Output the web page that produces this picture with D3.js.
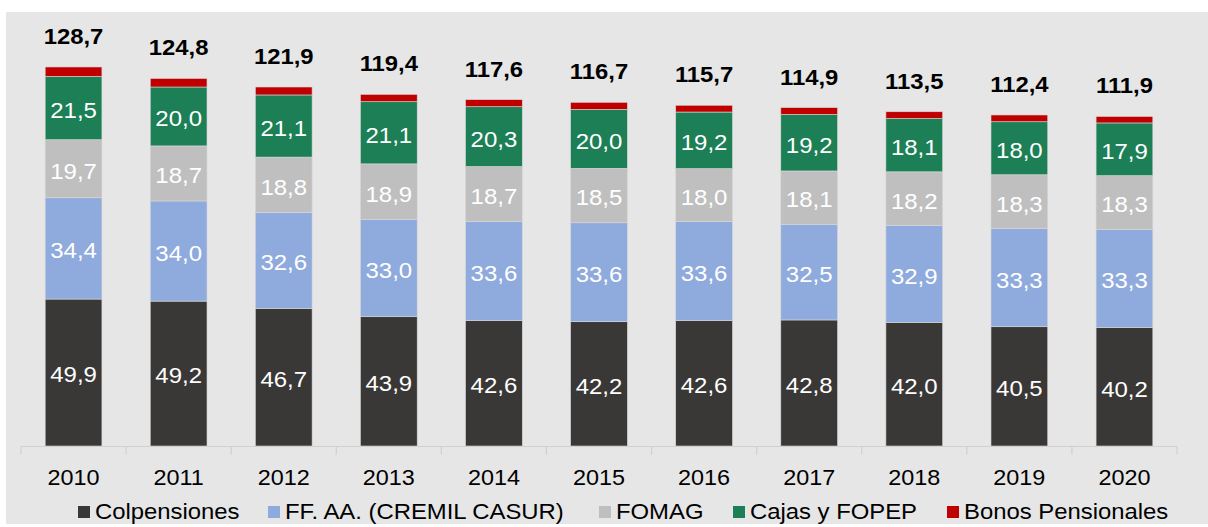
<!DOCTYPE html>
<html>
<head>
<meta charset="utf-8">
<script src="https://cdn.jsdelivr.net/npm/d3@7"></script>
<style>
  html, body { margin: 0; padding: 0; background: #ffffff; }
  svg { display: block; font-family: "Liberation Sans", Arial, sans-serif; }
</style>
</head>
<body>
<svg id="chart" width="1208" height="527"></svg>
<script>
// Pension liabilities by scheme (% of GDP), 2010–2020
const years = ["2010","2011","2012","2013","2014","2015","2016","2017","2018","2019","2020"];
const colpensiones = [49.9, 49.2, 46.7, 43.9, 42.6, 42.2, 42.6, 42.8, 42.0, 40.5, 40.2];
const ffaa         = [34.4, 34.0, 32.6, 33.0, 33.6, 33.6, 33.6, 32.5, 32.9, 33.3, 33.3];
const fomag        = [19.7, 18.7, 18.8, 18.9, 18.7, 18.5, 18.0, 18.1, 18.2, 18.3, 18.3];
const cajas        = [21.5, 20.0, 21.1, 21.1, 20.3, 20.0, 19.2, 19.2, 18.1, 18.0, 17.9];
const bonos        = [3.2, 2.9, 2.7, 2.5, 2.4, 2.4, 2.3, 2.3, 2.3, 2.3, 2.2];

const seriesNames  = ["Colpensiones", "FF. AA. (CREMIL CASUR)", "FOMAG", "Cajas y FOPEP", "Bonos Pensionales"];
const seriesColors = ["#3a3836", "#8faadc", "#bfbfbf", "#1c7f55", "#c00000"];
const seriesValues = [colpensiones, ffaa, fomag, cajas, bonos];
const showSegmentLabel = [true, true, true, true, false];

const fmt = v => v.toFixed(1).replace(".", ",");
// slightly widened lettering
const wide = (px, py, sx) => `translate(${px},${py}) scale(${sx},1)`;

const svg = d3.select("#chart");

// panel background
svg.append("rect")
  .attr("x", 6).attr("y", 12)
  .attr("width", 1202).attr("height", 512)
  .attr("fill", "#e6e6e6");

const x = d3.scaleBand().domain(years).range([21, 1177]).paddingInner(0.46).paddingOuter(0.23);
const y = d3.scaleLinear().domain([0, 140]).range([446, 446 - 140 * 2.945]);

const table = years.map((yr, i) => {
  const row = { year: yr };
  seriesNames.forEach((s, k) => { row[s] = seriesValues[k][i]; });
  return row;
});
const stacked = d3.stack().keys(seriesNames)(table);

// stacked bars
const groups = svg.append("g").selectAll("g")
  .data(stacked).join("g")
  .attr("fill", (d, k) => seriesColors[k]);

groups.selectAll("rect")
  .data(d => d).join("rect")
  .attr("x", d => x(d.data.year))
  .attr("width", x.bandwidth())
  .attr("y", d => y(d[1]))
  .attr("height", d => y(d[0]) - y(d[1]))
  .attr("stroke", "#d8d8d8")
  .attr("stroke-width", 0.6);

// segment value labels
groups.each(function(series, k) {
  if (!showSegmentLabel[k]) return;
  d3.select(this).selectAll("text")
    .data(series).join("text")
    .attr("transform", d => wide(x(d.data.year) + x.bandwidth() / 2, (y(d[0]) + y(d[1])) / 2, 1.09))
    .attr("dy", "0.45em")
    .attr("text-anchor", "middle")
    .attr("fill", "#ffffff")
    .attr("font-size", 22)
    .text(d => fmt(d[1] - d[0]));
});

// totals above bars
const totals = table.map(r => d3.sum(seriesNames, s => r[s]));
svg.append("g").selectAll("text")
  .data(years).join("text")
  .attr("transform", (d, i) => wide(x(d) + x.bandwidth() / 2, y(totals[i]) - 23, 1.06))
  .attr("text-anchor", "middle")
  .attr("font-size", 22.5)
  .attr("font-weight", "bold")
  .attr("fill", "#000000")
  .text((d, i) => fmt(totals[i]));

// category axis
const axis = svg.append("g").attr("transform", "translate(0,446.5)");
axis.append("line")
  .attr("x1", 21).attr("x2", 1177)
  .attr("stroke", "#d0d0d0").attr("stroke-width", 1.2);
const edges = d3.range(years.length + 1).map(i => 21 + i * (1156 / years.length));
axis.selectAll("line.tick")
  .data(edges).join("line")
  .attr("class", "tick")
  .attr("x1", d => d).attr("x2", d => d)
  .attr("y1", 0).attr("y2", 8)
  .attr("stroke", "#d0d0d0").attr("stroke-width", 1.2);
axis.selectAll("text")
  .data(years).join("text")
  .attr("transform", d => wide(x(d) + x.bandwidth() / 2, 38, 1.04))
  .attr("text-anchor", "middle")
  .attr("font-size", 22.5)
  .attr("fill", "#000000")
  .text(d => d);

// legend
const legendX = [78, 268, 599, 733, 947];
const legend = svg.append("g").selectAll("g")
  .data(seriesNames).join("g")
  .attr("transform", (d, k) => `translate(${legendX[k]},519)`);
legend.append("rect")
  .attr("x", 0).attr("y", -13)
  .attr("width", 12).attr("height", 12)
  .attr("fill", (d, k) => seriesColors[k]);
legend.append("text")
  .attr("transform", wide(17, 0, 1.085))
  .attr("font-size", 22)
  .attr("fill", "#000000")
  .text(d => d);
</script>
</body>
</html>
